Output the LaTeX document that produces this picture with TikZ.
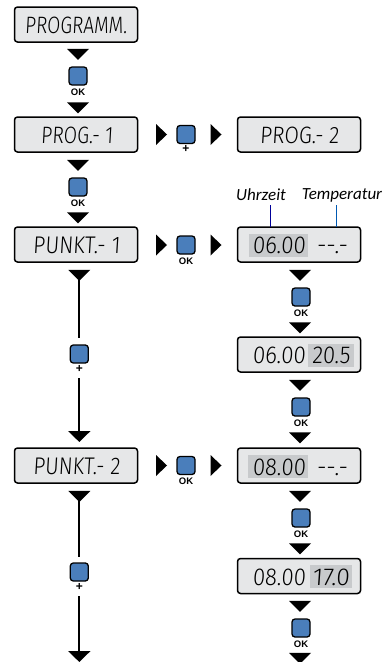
\documentclass[tikz,border=0pt]{standalone}
\usepackage{fontspec}
\usepackage{graphicx}
\usetikzlibrary{shapes.geometric,arrows.meta}
\setmainfont{Liberation Sans}
\newfontfamily\lcdf[FakeSlant=0.07]{Fira Sans Light}
\newfontfamily\capf{Carlito}
\newcommand{\lcdt}[2]{\resizebox{#1pt}{16.5pt}{\lcdf\vphantom{0}#2}}
\definecolor{btnblue}{HTML}{4A7EBB}
\definecolor{lcdbg}{HTML}{E6E7E8}
\definecolor{hilite}{HTML}{C8CACC}
\tikzset{
 lcdbox/.style={draw=black,line width=1.5pt,rounded corners=3pt,fill=lcdbg,minimum width=123pt,minimum height=35pt,inner sep=0pt,outer sep=0pt},
 btn/.style={draw=black,line width=1.3pt,rounded corners=3pt,fill=btnblue,minimum width=18pt,minimum height=18pt,inner sep=0pt},
 btnlabel/.style={font=\bfseries\fontsize{9.5}{9.5}\selectfont,inner sep=0pt},
 pluslabel/.style={font=\bfseries\fontsize{12}{12}\selectfont,inner sep=0pt},
 tridown/.style={fill=black,isosceles triangle,isosceles triangle apex angle=90,isosceles triangle stretches,minimum width=22pt,minimum height=11pt,inner sep=0pt,outer sep=0pt,shape border rotate=-90},
 triright/.style={tridown,shape border rotate=0},
 lcdtext/.style={inner sep=0pt,text=black},
 hl/.style={fill=hilite,inner sep=0pt,outer sep=0pt},
 captxt/.style={font=\capf\itshape\fontsize{17}{17}\selectfont,inner sep=0pt},
 flow/.style={line width=2.2pt,draw=black},
 flowarrow/.style={flow,-{Triangle[width=22pt,length=11pt]}},
}
\begin{document}
\begin{tikzpicture}[x=1pt,y=-1pt]
\useasboundingbox (0,0) rectangle (382,662);
% left column boxes
\node[lcdbox] (programm) at (76,24.5) {};
\node[lcdtext] (tprogramm) at (76,25) {\lcdt{102}{PROGRAMM.}};
\node[lcdbox] (prog1) at (76,134.5) {};
\node[lcdtext] (tprog1) at (77,135.5) {\lcdt{72}{PROG.- 1}};
\node[lcdbox] (punkt1) at (76,244.5) {};
\node[lcdtext] (tpunkt1) at (76.5,245.5) {\lcdt{87}{PUNKT.- 1}};
\node[lcdbox] (punkt2) at (76,465.5) {};
\node[lcdtext] (tpunkt2) at (76.5,466) {\lcdt{87}{PUNKT.- 2}};
% right column boxes
\node[lcdbox] (prog2) at (299,134.5) {};
\node[lcdtext] (tprog2) at (299.5,135.5) {\lcdt{79}{PROG.- 2}};
\node[lcdbox] (r1) at (299,244.5) {};
\node[hl,minimum width=59pt,minimum height=23pt] (h1) at (278.5,245) {};
\node[lcdtext] (r1a) at (279,245.5) {\lcdt{53}{06.00}};
\node[lcdtext] (r1b) at (332,245.5) {\lcdt{31}{--.-}};
\node[lcdbox] (r2) at (299,354.5) {};
\node[lcdtext] (r2a) at (279,355.5) {\lcdt{53}{06.00}};
\node[hl,minimum width=46pt,minimum height=23pt] (h2) at (331,355) {};
\node[lcdtext] (r2b) at (331,355.5) {\lcdt{38}{20.5}};
\node[lcdbox] (r3) at (299,465.5) {};
\node[hl,minimum width=60pt,minimum height=23pt] (h3) at (278,466.5) {};
\node[lcdtext] (r3a) at (279,467) {\lcdt{53}{08.00}};
\node[lcdtext] (r3b) at (332,467) {\lcdt{31}{--.-}};
\node[lcdbox] (r4) at (299,576) {};
\node[lcdtext] (r4a) at (279,577) {\lcdt{53}{08.00}};
\node[hl,minimum width=42pt,minimum height=23pt] (h4) at (331,576.5) {};
\node[lcdtext] (r4b) at (331,577) {\lcdt{37}{17.0}};
% left column buttons
\node[btn] (b1) at (78,76) {};
\node[btnlabel,below=3pt] (l1) at (b1.south) {OK};
\node[btn] (b2) at (78,187) {};
\node[btnlabel,below=3pt] (l2) at (b2.south) {OK};
\node[btn] (b3) at (79.3,354) {};
\node[pluslabel,below=1.5pt] (l3) at (b3.south) {+};
\node[btn] (b4) at (79.3,572) {};
\node[pluslabel,below=1.5pt] (l4) at (b4.south) {+};
% middle buttons
\node[btn] (m1) at (186,134.5) {};
\node[pluslabel,below=1.5pt] (lm1) at (m1.south) {+};
\node[btn] (m2) at (186,245) {};
\node[btnlabel,below=3pt] (lm2) at (m2.south) {OK};
\node[btn] (m3) at (186,465.5) {};
\node[btnlabel,below=3pt] (lm3) at (m3.south) {OK};
% right column buttons
\node[btn] (c1) at (301,297) {};
\node[btnlabel,below=3pt] (lc1) at (c1.south) {OK};
\node[btn] (c2) at (301,407) {};
\node[btnlabel,below=3pt] (lc2) at (c2.south) {OK};
\node[btn] (c3) at (301,518) {};
\node[btnlabel,below=3pt] (lc3) at (c3.south) {OK};
\node[btn] (c4) at (301,628) {};
\node[btnlabel,below=3pt] (lc4) at (c4.south) {OK};
% down triangles, left
\node[tridown] (t1) at (78,53.5) {};
\node[tridown] (t2) at (78,107) {};
\node[tridown] (t3) at (78,164.5) {};
\node[tridown] (t4) at (78,217) {};
\node[tridown] (t5) at (79.3,274.5) {};
\node[tridown] (t6) at (79.3,495.5) {};
% down triangles, right
\node[tridown] (u1) at (300,274.5) {};
\node[tridown] (u2) at (300,327) {};
\node[tridown] (u3) at (300,384.5) {};
\node[tridown] (u4) at (300,437) {};
\node[tridown] (u5) at (300,495.5) {};
\node[tridown] (u6) at (300,548) {};
\node[tridown] (u7) at (300,605.5) {};
\node[tridown] (u8) at (300,657.5) {};
% right triangles
\node[triright,minimum width=21pt] (a1) at (160.5,134.5) {};
\node[triright,minimum width=21pt] (a2) at (215,134.5) {};
\node[triright,minimum width=21pt] (a3) at (160.5,245) {};
\node[triright,minimum width=21pt] (a4) at (215,245) {};
\node[triright,minimum width=21pt] (a5) at (160.5,465.5) {};
\node[triright,minimum width=21pt] (a6) at (215,465.5) {};
% long connectors
\coordinate (g1) at (79.3,338);
\coordinate (g2) at (79.3,557);
\coordinate (p2top) at (79.3,442);
\coordinate (endtip) at (79.3,662);
\coordinate (s3) at (79.3,378);
\coordinate (s4) at (79.3,596);
\draw[flow] (t5.center) -- (g1);
\draw[flowarrow] (s3) -- (p2top);
\draw[flow] (t6.center) -- (g2);
\draw[flowarrow] (s4) -- (endtip);
% captions
\node[captxt] (uhr) at (261,195) {Uhrzeit};
\node[captxt] (temp) at (342,195) {Temperatur};
\coordinate (cu) at (270,205);
\coordinate (ct) at (336,205);
\draw[line width=1pt,draw=blue!60!black] (cu) -- (cu |- r1.north);
\draw[line width=1pt,draw=blue!50!cyan!70!black] (ct) -- (ct |- r1.north);
\end{tikzpicture}
\end{document}
